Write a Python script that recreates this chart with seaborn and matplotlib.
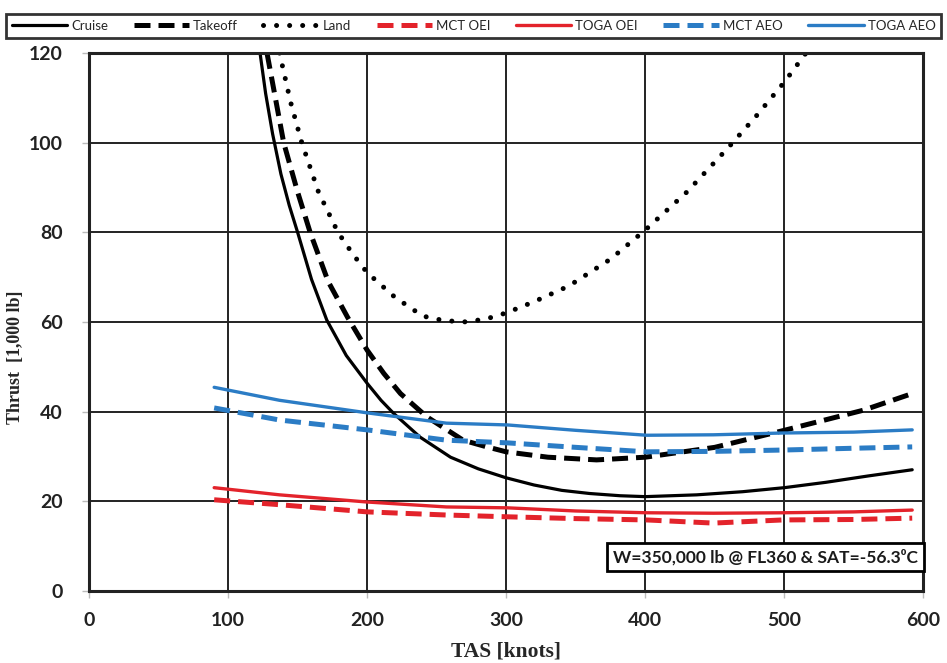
import matplotlib
matplotlib.use("Agg")
import matplotlib.pyplot as plt
import seaborn as sns

# values (TAS in knots, thrust in 1,000 lb)
cruise_tas = [123, 127, 132, 138, 144, 150, 160, 171, 185, 200, 210, 219, 238, 260, 280, 300, 320, 340,
              360, 382, 400, 437, 470, 500, 530, 560, 592]
cruise_thr = [120, 111, 102, 93, 86, 80, 69.5, 60.4, 52.5, 46.3, 42.5, 39.6, 34.3, 29.8, 27.2, 25.2, 23.6,
              22.4, 21.7, 21.2, 21.0, 21.4, 22.1, 23.0, 24.2, 25.6, 27.0]

takeoff_tas = [128, 134, 140, 150, 159, 172, 186, 200, 212, 224, 243, 269, 285, 300, 330, 365, 400, 450,
               500, 557, 592]
takeoff_thr = [120, 110, 100, 89, 80, 69, 61, 53.7, 48.5, 44, 38.8, 33.6, 32.2, 31.0, 29.8, 29.2, 29.8,
               32.0, 35.8, 40.3, 44.0]

land_tas = [137, 145, 153, 165, 179, 190, 200, 220, 240, 255, 270, 285, 300, 320, 345, 375, 400, 430, 460,
            480, 500, 518]
land_thr = [120, 109, 100, 89, 80, 75, 71, 65.5, 61.3, 60.3, 60, 60.6, 62, 64.5, 68, 74, 80.5, 89, 99,
            106, 113.5, 121]

eng_tas = [90, 137, 200, 257, 301, 350, 401, 449, 499, 550, 592]
mct_oei = [20.3, 19.2, 17.6, 16.9, 16.5, 16.1, 15.8, 15.1, 15.8, 15.9, 16.2]
toga_oei = [23.0, 21.4, 19.8, 18.7, 18.5, 17.8, 17.4, 17.3, 17.4, 17.6, 18.0]
mct_aeo = [40.8, 38.1, 35.9, 33.6, 33.0, 32.0, 31.0, 31.1, 31.4, 31.8, 32.1]
toga_aeo = [45.4, 42.5, 39.7, 37.4, 37.0, 35.8, 34.7, 34.8, 35.2, 35.4, 35.9]

x_ticks = [0, 100, 200, 300, 400, 500, 600]
y_ticks = [0, 20, 40, 60, 80, 100, 120]

red = "#e3232b"
blue = "#2b7cc5"

sns.set_style("whitegrid")
plt.rcParams['font.family'] = ['Lato', 'DejaVu Sans']

fig = plt.figure(figsize=(9.47, 6.63), dpi=100)
ax = fig.add_axes([0.094, 0.109, 0.881, 0.811])

dot = (0, (0.01, 2.6))
dash = (0, (3.2, 1.6))

sns.lineplot(x=cruise_tas, y=cruise_thr, ax=ax, color="black", lw=2.3, label="Cruise", sort=False)
sns.lineplot(x=takeoff_tas, y=takeoff_thr, ax=ax, color="black", lw=3.6, label="Takeoff", sort=False,
             linestyle=dash)
sns.lineplot(x=land_tas, y=land_thr, ax=ax, color="black", lw=3.6, label="Land", sort=False,
             linestyle=dot, dash_capstyle="round")
sns.lineplot(x=eng_tas, y=mct_oei, ax=ax, color=red, lw=3.6, label="MCT OEI", linestyle=dash)
sns.lineplot(x=eng_tas, y=toga_oei, ax=ax, color=red, lw=2.4, label="TOGA OEI")
sns.lineplot(x=eng_tas, y=mct_aeo, ax=ax, color=blue, lw=3.6, label="MCT AEO", linestyle=dash)
sns.lineplot(x=eng_tas, y=toga_aeo, ax=ax, color=blue, lw=2.4, label="TOGA AEO")

ax.set_xlim(0, 600)
ax.set_ylim(0, 120)
ax.set_xticks(x_ticks)
ax.set_yticks(y_ticks)
ax.grid(True, color="#222222", lw=1.4)
ax.set_axisbelow(True)
for s in ax.spines.values():
    s.set_color("#222222")
    s.set_linewidth(2.2)
ax.tick_params(axis="both", labelsize=14, colors="#bbbbbb", labelcolor="#222222", length=5, width=1,
               direction="out", left=True, bottom=True)
ax.tick_params(axis="x", pad=10)
ax.tick_params(axis="y", pad=14)
for lab in ax.get_xticklabels() + ax.get_yticklabels():
    lab.set_fontweight("bold")

ax.set_xlabel("TAS [knots]", family="Liberation Serif", fontweight="bold", fontsize=15.5)
ax.set_ylabel("Thrust  [1,000 lb]", family="Liberation Serif", fontweight="bold", fontsize=13)
ax.xaxis.set_label_coords(0.5, -0.095)
ax.yaxis.set_label_coords(-0.078, 0.435)

handles, labels = ax.get_legend_handles_labels()
ax.get_legend().remove()
leg = fig.legend(handles, labels, loc="lower left", bbox_to_anchor=(0.006, 0.943, 0.988, 0.05),
                 mode="expand", ncol=7, fontsize=9.5, handlelength=4.2, handletextpad=0.3,
                 borderaxespad=0, columnspacing=1.0, frameon=True, fancybox=False,
                 borderpad=0.45)
leg.get_frame().set_edgecolor("black")
leg.get_frame().set_linewidth(2)

ax.text(0.993, 0.063, "W=350,000 lb @ FL360 & SAT=-56.3\u2070C", transform=ax.transAxes,
        ha="right", va="center", fontsize=12.5, fontweight="bold", color="#1a1a1a",
        bbox=dict(boxstyle="square,pad=0.35", fc="white", ec="black", lw=2))

fig.savefig("out.png", dpi=100)
